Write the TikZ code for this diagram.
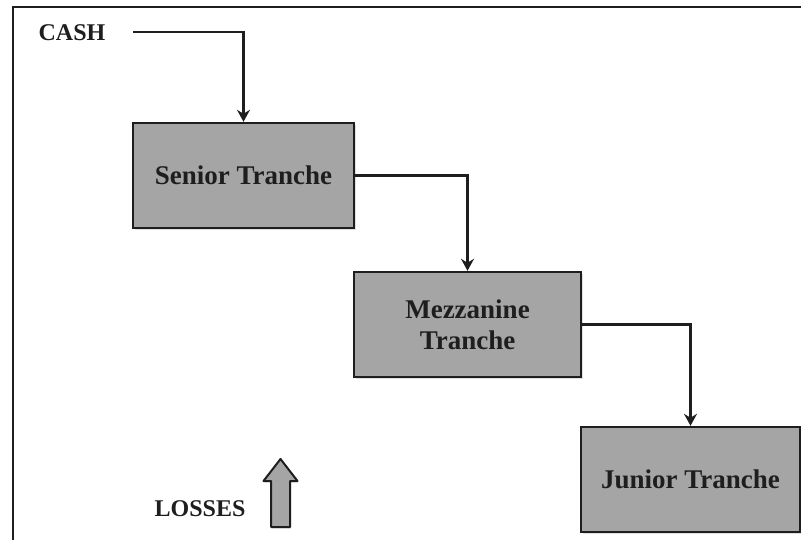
\documentclass[tikz,border=0pt]{standalone}
\usepackage{fontspec}
\setmainfont{Liberation Serif}
\usetikzlibrary{arrows.meta,shadows}
\definecolor{boxgray}{RGB}{165,165,165}
\definecolor{ink}{RGB}{30,30,30}
\tikzset{
  tranche/.style={draw=ink, line width=2.4pt, fill=boxgray,
    minimum height=105pt, inner sep=0pt, align=center, text=ink,
    font=\fontsize{27}{31}\selectfont\bfseries,
    drop shadow={opacity=0.25, shadow xshift=1.5pt, shadow yshift=-2pt}},
  txtlabel/.style={text=ink, inner sep=0pt, font=\fontsize{24}{28}\selectfont\bfseries},
  flow/.style={draw=ink, line width=2.4pt,
    -{Stealth[length=12pt,width=13pt,inset=4pt]}},
  frame/.style={draw=ink, line width=2.6pt}
}
\begin{document}
\begin{tikzpicture}[x=1pt,y=-1pt]
\useasboundingbox (0,0) rectangle (801,540);
% outer frame, open at the right and bottom
\draw[frame] (13,540) -- (13,7) -- (801,7);
% tranches
\node[tranche, minimum width=221pt] (senior) at (243.5,175.5) {Senior Tranche};
\node[tranche, minimum width=227pt] (mezz) at (467.5,324.5) {Mezzanine\\Tranche};
\node[tranche, minimum width=219pt] (junior) at (690.5,479.5) {Junior Tranche};
% labels
\node[txtlabel] (cash) at (72,33) {CASH};
\coordinate (cashout) at (133,32);
\node[txtlabel, anchor=base] (losses) at (200,516) {LOSSES};
% cash waterfall
\draw[flow] (cashout) -| (senior.north);
\draw[flow] (senior.east) -| (mezz.north);
\draw[flow] (mezz.east) -| (junior.north);
% block arrow for losses
\draw[draw=ink, line width=2pt, fill=boxgray, line join=round,
  drop shadow={opacity=0.2, shadow xshift=1pt, shadow yshift=-1.5pt}]
  (271,527) -- (271,481) -- (263.5,481) -- (280.5,459) -- (297.5,481)
  -- (290,481) -- (290,527) -- cycle;
\end{tikzpicture}
\end{document}
